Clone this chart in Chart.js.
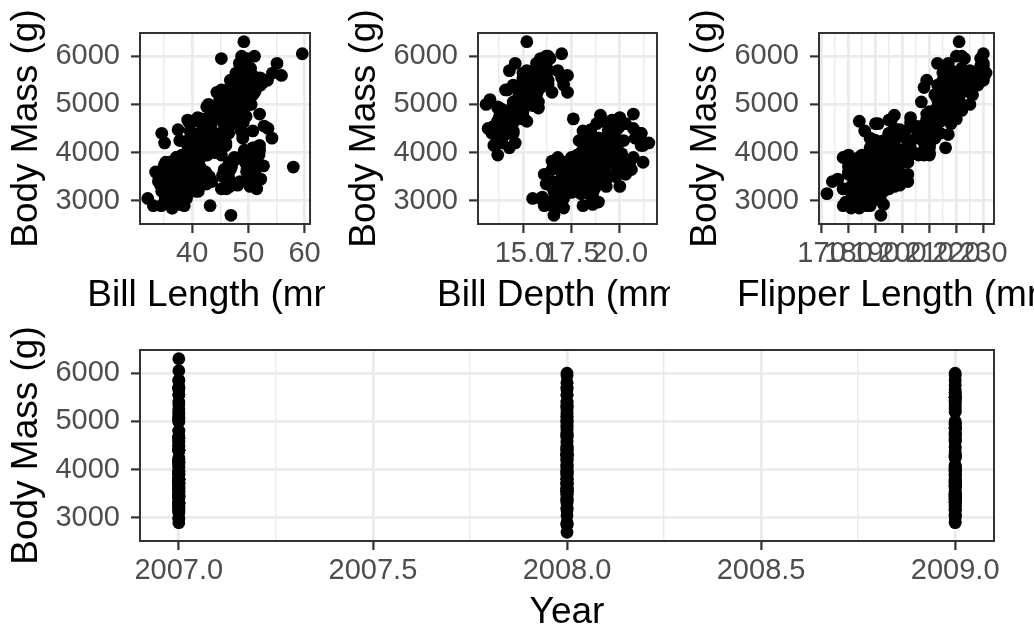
<!DOCTYPE html>
<html lang="en">
<head>
  <meta charset="UTF-8" />
  <title>Penguin body mass</title>
  <script src="https://cdn.jsdelivr.net/npm/chart.js"></script>
  <style>
    body { margin: 0; background: #fff; overflow: hidden; }
    #wrap { position: relative; width: 1034px; height: 624px; }
    canvas { position: absolute; }
  </style>
</head>
<body>
  <div id="wrap">
    <canvas id="chartLength" width="325" height="320" style="left:0;top:0"></canvas>
    <canvas id="chartDepth" width="332" height="320" style="left:338px;top:0"></canvas>
    <canvas id="chartFlipper" width="355" height="320" style="left:679px;top:0"></canvas>
    <canvas id="chartYear" width="1034" height="304" style="left:0;top:320px"></canvas>
  </div>

  <script>
    // one inner list per year, rows in the same order in every column
    const years = [2007, 2008, 2009];

    const billLength = [
      [39.1, 39.5, 40.3, 36.7, 39.3, 38.9, 39.2, 34.1, 42.0, 37.8, 37.8, 41.1, 38.6, 34.6, 36.6, 38.7, 42.5, 34.4, 46.0,
       37.8, 37.7, 35.9, 38.2, 38.8, 35.3, 40.6, 40.5, 37.9, 40.5,
       39.5, 37.2, 39.5, 40.9, 36.4, 39.2, 38.8, 42.2, 37.6, 39.8, 36.5, 40.8, 36.0, 44.1, 37.0, 39.6, 41.1, 37.5, 36.0, 42.3,
       46.1, 50.0, 48.7, 50.0, 47.6, 46.5, 45.4, 46.7, 43.3, 46.8, 40.9, 49.0, 45.5, 48.4, 45.8, 49.3, 42.0, 49.2, 46.2, 48.7,
       50.2, 45.1, 46.5, 46.3, 42.9, 46.1, 44.5, 47.8, 48.2, 50.0, 47.3, 42.8, 45.1, 59.6,
       46.5, 50.0, 51.3, 45.4, 52.7, 45.2, 46.1, 51.3, 46.0, 51.3, 46.6, 51.7, 47.0, 52.0, 45.9, 50.5, 50.3, 58.0, 46.4, 49.2,
       42.4, 48.5, 43.2, 50.6, 46.7, 52.0],
      [39.6, 40.1, 35.0, 42.0, 34.5, 41.4, 39.0, 40.6, 36.5, 37.6, 35.7, 41.3, 37.6, 41.1, 36.4, 41.6, 35.5, 41.1,
       35.9, 41.8, 33.5, 39.7, 39.6, 45.8, 35.5, 42.8, 40.9, 37.2, 36.2, 42.1, 34.6, 42.9, 36.7, 35.1,
       37.3, 41.3, 36.3, 36.9, 38.3, 38.9, 35.7, 41.1, 34.0, 39.6, 36.2, 40.8, 38.1, 40.3, 33.1, 43.2,
       49.1, 48.4, 42.6, 44.4, 44.0, 48.7, 42.7, 49.6, 45.3, 49.6, 50.5, 43.6, 45.5, 50.5, 44.9, 45.2, 46.6, 48.5, 45.1, 50.1,
       46.5, 45.0, 43.8, 45.5, 43.2, 50.4, 45.3, 46.2, 45.7, 54.3, 45.8, 49.8, 46.2, 49.5, 43.5, 50.7, 47.7, 46.4, 48.2, 46.5,
       46.4, 48.6, 47.5, 51.1, 45.2, 45.2,
       50.5, 49.5, 46.4, 52.8, 40.9, 54.2, 42.5, 51.0, 49.7, 47.5, 47.6, 52.0, 46.9, 53.5, 49.0, 46.2, 50.9, 45.5],
      [35.0, 41.0, 37.7, 37.8, 37.9, 39.7, 38.6, 38.2, 38.1, 43.2, 38.1, 45.6, 39.7, 42.2, 39.6, 42.7,
       38.6, 37.3, 35.7, 41.1, 36.2, 37.7, 40.2, 41.4, 35.2, 40.6, 38.8, 41.5, 39.0, 44.1, 38.5, 43.1,
       36.8, 37.5, 38.1, 41.1, 35.6, 40.2, 37.0, 39.7, 40.2, 40.6, 32.1, 40.7, 37.3, 39.0, 39.2, 36.6, 36.0, 37.8, 36.0, 41.5,
       49.1, 52.5, 47.4, 50.0, 44.9, 50.8, 43.4, 51.3, 47.5, 52.1, 47.5, 52.2, 45.5, 49.5, 44.5, 50.8, 49.4, 46.9, 48.4, 51.1,
       48.5, 55.9, 47.2, 49.1, 46.8, 41.7, 53.4, 43.3, 48.1, 50.5, 49.8, 43.5, 51.5, 46.2, 55.1, 48.8, 47.2, 46.8, 50.4, 45.2,
       49.9,
       50.9, 50.8, 50.1, 49.0, 51.5, 49.8, 48.1, 51.4, 45.7, 50.7, 42.5, 52.2, 45.2, 49.3, 50.2, 45.6, 51.9, 46.8, 45.7, 51.8,
       43.5, 49.6, 50.8, 50.2]
    ];

    const billDepth = [
      [18.7, 17.4, 18.0, 19.3, 20.6, 17.8, 19.6, 18.1, 20.2, 17.1, 17.3, 17.6, 21.2, 21.1, 17.8, 19.0, 20.7, 18.4, 21.5,
       18.3, 18.7, 19.2, 18.1, 17.2, 18.9, 18.6, 17.9, 18.6, 18.9,
       16.7, 18.1, 17.8, 18.9, 17.0, 21.1, 20.0, 18.5, 19.3, 19.1, 18.0, 18.4, 18.5, 19.7, 16.9, 18.8, 19.0, 18.9, 17.9, 21.2,
       13.2, 16.3, 14.1, 15.2, 14.5, 13.5, 14.6, 15.3, 13.4, 15.4, 13.7, 16.1, 13.7, 14.6, 14.6, 15.7, 13.5, 15.2, 14.5, 15.1,
       14.3, 14.5, 14.5, 15.8, 13.1, 15.1, 14.3, 15.0, 14.3, 15.3, 15.3, 14.2, 14.5, 17.0,
       17.9, 19.5, 19.2, 18.7, 19.8, 17.8, 18.2, 18.2, 18.9, 19.9, 17.8, 20.3, 17.3, 18.1, 17.1, 19.6, 20.0, 17.8, 18.6, 18.2,
       17.3, 17.5, 16.6, 19.4, 17.9, 19.0],
      [17.7, 18.9, 17.9, 19.5, 18.1, 18.6, 17.5, 18.8, 16.6, 19.1, 16.9, 21.1, 17.0, 18.2, 17.1, 18.0, 16.2, 19.1,
       16.6, 19.4, 19.0, 18.4, 17.2, 18.9, 17.5, 18.5, 16.8, 19.4, 16.1, 19.1, 17.2, 17.6, 18.8, 19.4,
       17.8, 20.3, 19.5, 18.6, 19.2, 18.8, 18.0, 18.1, 17.1, 18.1, 17.3, 18.9, 18.6, 18.5, 16.1, 18.5,
       14.8, 16.3, 13.7, 17.3, 13.6, 15.7, 13.7, 16.0, 13.7, 15.0, 15.9, 13.9, 13.9, 15.9, 13.3, 15.8, 14.2, 14.1, 14.4, 15.0,
       14.4, 15.4, 13.9, 15.0, 14.5, 15.3, 13.8, 14.9, 13.9, 15.7, 14.2, 16.8, 14.4, 16.2, 14.2, 15.0, 15.0, 15.6, 15.6, 14.8,
       15.0, 16.0, 14.2, 16.3, 13.8, 16.4,
       18.4, 19.0, 17.8, 20.0, 16.6, 20.8, 16.7, 18.8, 18.6, 16.8, 18.3, 20.7, 16.6, 19.9, 19.5, 17.5, 19.1, 17.0],
      [17.9, 20.0, 16.0, 20.0, 18.6, 18.9, 17.2, 20.0, 17.0, 19.0, 16.5, 20.3, 17.7, 19.5, 20.7, 18.3,
       17.0, 20.5, 17.0, 18.6, 17.2, 19.8, 17.0, 18.5, 15.9, 19.0, 17.6, 18.3, 17.1, 18.0, 17.9, 19.2,
       18.5, 18.5, 17.6, 17.5, 17.5, 20.1, 16.5, 17.9, 17.1, 17.2, 15.5, 17.0, 16.8, 18.7, 18.6, 18.4, 17.8, 18.1, 17.1, 18.5,
       14.5, 15.6, 14.6, 15.9, 13.8, 17.3, 14.4, 14.2, 14.0, 17.0, 15.0, 17.1, 14.5, 16.1, 14.7, 15.7, 15.8, 14.6, 14.4, 16.5,
       15.0, 17.0, 15.5, 15.0, 16.1, 14.7, 15.8, 14.0, 15.1, 15.2, 15.9, 15.2, 16.3, 14.1, 16.0, 16.2, 13.7, 14.3, 15.7, 14.8,
       16.1,
       17.9, 18.5, 17.9, 19.6, 18.7, 17.3, 16.4, 19.0, 17.3, 19.7, 17.3, 18.8, 16.6, 19.9, 18.8, 19.4, 19.5, 16.5, 17.0, 19.8,
       18.1, 18.2, 19.0, 18.7]
    ];

    const flipperLength = [
      [181, 186, 195, 193, 190, 181, 195, 193, 190, 186, 180, 182, 191, 198, 185, 195, 197, 184, 194,
       174, 180, 189, 185, 180, 187, 183, 187, 172, 180,
       178, 178, 188, 184, 195, 196, 190, 180, 181, 184, 182, 195, 186, 196, 185, 190, 182, 179, 190, 191,
       211, 230, 210, 218, 215, 210, 211, 219, 209, 215, 214, 216, 214, 213, 210, 217, 210, 221, 209, 222,
       218, 215, 213, 215, 215, 215, 216, 215, 210, 220, 222, 209, 207, 230,
       192, 196, 193, 188, 197, 198, 178, 197, 195, 198, 193, 194, 185, 201, 190, 201, 197, 181, 190, 195,
       181, 191, 187, 193, 195, 197],
      [186, 188, 190, 200, 187, 191, 186, 193, 181, 194, 185, 195, 185, 192, 184, 192, 195, 188,
       190, 198, 190, 190, 196, 197, 190, 195, 191, 184, 187, 195, 189, 196, 187, 193,
       191, 194, 190, 189, 189, 190, 202, 205, 185, 186, 187, 208, 190, 196, 178, 192,
       220, 220, 213, 219, 208, 208, 208, 225, 210, 216, 222, 217, 210, 225, 213, 215, 210, 220, 210, 225,
       217, 220, 208, 220, 208, 224, 208, 221, 214, 231, 219, 230, 214, 229, 220, 223, 216, 221, 221, 217,
       216, 230, 209, 220, 215, 223,
       200, 200, 191, 205, 187, 201, 187, 203, 195, 199, 195, 210, 192, 205, 210, 187, 196, 196],
      [192, 203, 183, 190, 193, 184, 199, 190, 181, 197, 198, 191, 193, 197, 191, 196,
       188, 199, 189, 189, 187, 198, 176, 202, 186, 199, 191, 195, 191, 210, 190, 197,
       193, 199, 187, 190, 191, 200, 185, 193, 193, 187, 188, 190, 192, 185, 190, 184, 195, 193, 187, 201,
       212, 221, 212, 224, 212, 228, 218, 218, 212, 230, 218, 228, 212, 224, 214, 226, 216, 222, 203, 225,
       219, 228, 215, 228, 215, 210, 219, 208, 209, 216, 229, 213, 230, 217, 230, 222, 214, 215, 222, 212,
       213,
       196, 201, 190, 212, 187, 198, 199, 201, 193, 203, 187, 197, 191, 203, 202, 194, 206, 189, 195, 207,
       202, 193, 210, 198]
    ];

    const bodyMass = [
      [3750, 3800, 3250, 3450, 3650, 3625, 4675, 3475, 4250, 3300, 3700, 3200, 3800, 4400, 3700, 3450, 4500, 3325, 4200,
       3400, 3600, 3800, 3950, 3800, 3800, 3550, 3200, 3150, 3950,
       3250, 3900, 3300, 3900, 3325, 4150, 3950, 3550, 3300, 4650, 3150, 3900, 3100, 4400, 3000, 4600, 3425, 2975, 3450, 4150,
       4500, 5700, 4450, 5700, 5400, 4550, 4800, 5200, 4400, 5150, 4650, 5550, 4650, 5850, 4200, 5850, 4150, 6300, 4800, 5350,
       5700, 5000, 4400, 5050, 5000, 5100, 4100, 5650, 4600, 5550, 5250, 4700, 5050, 6050,
       3500, 3900, 3650, 3525, 3725, 3950, 3250, 3750, 4150, 3700, 3800, 3775, 3700, 4050, 3575, 4050, 3300, 3700, 3450, 4400,
       3600, 3400, 2900, 3800, 3300, 4150],
      [3500, 4300, 3450, 4050, 2900, 3700, 3550, 3800, 2850, 3750, 3150, 4400, 3600, 4050, 2850, 3950, 3350, 4100,
       3050, 4450, 3600, 3900, 3550, 4150, 3700, 4250, 3700, 3900, 3550, 4000, 3200, 4700, 3800, 4200,
       3350, 3550, 3800, 3500, 3950, 3600, 3550, 4300, 3400, 4450, 3300, 4300, 3700, 4350, 2900, 4100,
       5150, 5400, 4950, 5250, 4350, 5350, 3950, 5700, 4300, 4750, 5550, 4900, 4200, 5400, 5100, 5300, 4850, 5300, 4400, 5000,
       4900, 5050, 4300, 5000, 4450, 5550, 4200, 5300, 4400, 5650, 4700, 5700, 4650, 5800, 4700, 5550, 4750, 5000, 5100, 5200,
       4700, 5800, 4600, 6000, 4750, 5950,
       3400, 3800, 3700, 4550, 3200, 4300, 3350, 4100, 3600, 3900, 3850, 4800, 2700, 4500, 3950, 3650, 3550, 3500],
      [3725, 4725, 3075, 4250, 2925, 3550, 3750, 3900, 3175, 4775, 3825, 4600, 3200, 4275, 3900, 4075,
       2900, 3775, 3350, 3325, 3150, 3500, 3450, 3875, 3050, 4000, 3275, 4300, 3050, 4000, 3325, 3500,
       3500, 4475, 3425, 3900, 3175, 3975, 3400, 4250, 3400, 3475, 3050, 3725, 3000, 3650, 4250, 3475, 3450, 3750, 3700, 4000,
       4625, 5450, 4725, 5350, 4750, 5600, 4600, 5300, 4875, 5550, 4950, 5400, 4750, 5650, 4850, 5200, 4925, 4875, 4625, 5250,
       4850, 5600, 4975, 5500, 5500, 4700, 5500, 4575, 5500, 5000, 5950, 4650, 5500, 4375, 5850, 6000, 4925, 4850, 5750, 5200,
       5400,
       3675, 4450, 3400, 4300, 3250, 3675, 3325, 3950, 3600, 4050, 3350, 3450, 3250, 4050, 3800, 3525, 3950, 3650, 3650, 4000,
       3400, 3775, 4100, 3775]
    ];

    // breaks (labelled) and minor breaks (grid only)
    const massTicks = [3000, 4000, 5000, 6000];
    const massMinor = [3500, 4500, 5500];
    const lengthTicks = [40, 50, 60];
    const lengthMinor = [35, 45, 55];
    const depthTicks = [15, 17.5, 20];
    const depthMinor = [13.75, 16.25, 18.75, 21.25];
    const flipperTicks = [170, 180, 190, 200, 210, 220, 230];
    const flipperMinor = [175, 185, 195, 205, 215, 225];
    const yearTicks = [2007, 2007.5, 2008, 2008.5, 2009];
    const yearMinor = [2007.25, 2007.75, 2008.25, 2008.75];

    const family = '"Liberation Sans", Arial, Helvetica, sans-serif';
    const tickFont = { family: family, size: 29 };
    const titleFont = { family: family, size: 37 };

    // ggplot-like limits: data range plus 5% each side
    function limits(groups) {
      const all = groups.flat();
      const lo = Math.min(...all), hi = Math.max(...all);
      const pad = (hi - lo) * 0.05;
      return [lo - pad, hi + pad];
    }

    function points(xGroups) {
      return xGroups.flatMap((group, g) => group.map((x, i) => ({ x: x, y: bodyMass[g][i] })));
    }

    function gridStyle(major) {
      const isMajor = c => c.tick && major.includes(c.tick.value);
      return {
        color: '#EBEBEB',
        lineWidth: c => isMajor(c) ? 2.8 : 1.4,
        tickLength: 9,
        tickWidth: 2.2,
        tickColor: c => isMajor(c) ? '#333333' : 'rgba(0,0,0,0)'
      };
    }

    function setTicks(major, minor) {
      return scale => {
        scale.ticks = major.concat(minor).sort((a, b) => a - b).map(v => ({ value: v }));
      };
    }

    function xAxis(range, major, minor, decimals, height) {
      return {
        type: 'linear',
        min: range[0],
        max: range[1],
        afterBuildTicks: setTicks(major, minor),
        afterFit: s => { s.height = height; },
        ticks: {
          autoSkip: false, maxRotation: 0, minRotation: 0, padding: 4,
          color: '#4D4D4D', font: tickFont,
          callback: v => major.includes(v) ? v.toFixed(decimals) : ''
        },
        grid: gridStyle(major),
        border: { display: false }
      };
    }

    const massRange = limits(bodyMass);

    function yAxis() {
      return {
        type: 'linear',
        min: massRange[0],
        max: massRange[1],
        afterBuildTicks: setTicks(massTicks, massMinor),
        afterFit: s => { s.width = 140; },
        ticks: {
          padding: 11, color: '#4D4D4D', font: tickFont,
          callback: v => massTicks.includes(v) ? String(v) : ''
        },
        title: {
          display: true, text: 'Body Mass (g)', color: '#000000',
          font: titleFont, padding: { top: 5, bottom: 0 }
        },
        grid: gridStyle(massTicks),
        border: { display: false }
      };
    }

    // panel border and the x title (drawn free so it can run past the panel like in the original)
    const frame = {
      id: 'frame',
      afterDraw(chart, args, opts) {
        const { ctx, chartArea: a } = chart;
        ctx.save();
        ctx.strokeStyle = '#333333';
        ctx.lineWidth = 2;
        ctx.strokeRect(a.left, a.top, a.right - a.left, a.bottom - a.top);
        ctx.font = '37px ' + family;
        ctx.fillStyle = '#000000';
        ctx.textAlign = 'center';
        ctx.textBaseline = 'alphabetic';
        ctx.fillText(opts.title, (a.left + a.right) / 2 + opts.shift, opts.baseline);
        ctx.restore();
      }
    };

    function makeChart(id, data, xScale, title, shift, baseline, padding) {
      new Chart(document.getElementById(id), {
        type: 'scatter',
        data: {
          datasets: [{
            data: data,
            backgroundColor: '#000000',
            borderWidth: 0,
            pointRadius: 6.4,
            pointHoverRadius: 6.4
          }]
        },
        options: {
          responsive: false,
          animation: false,
          devicePixelRatio: 1,
          layout: { padding: padding },
          scales: { x: xScale, y: yAxis() },
          plugins: {
            legend: { display: false },
            tooltip: { enabled: false },
            frame: { title: title, shift: shift, baseline: baseline }
          }
        },
        plugins: [frame]
      });
    }

    const yearGroups = bodyMass.map((group, g) => group.map(() => years[g]));

    makeChart('chartLength', points(billLength),
      xAxis(limits(billLength), lengthTicks, lengthMinor, 0, 96),
      'Bill Length (mm)', -3, 306, { top: 33, right: 10, bottom: 0, left: 0 });

    makeChart('chartDepth', points(billDepth),
      xAxis(limits(billDepth), depthTicks, depthMinor, 1, 96),
      'Bill Depth (mm)', -3, 306, { top: 33, right: 13, bottom: 0, left: 0 });

    makeChart('chartFlipper', points(flipperLength),
      xAxis(limits(flipperLength), flipperTicks, flipperMinor, 0, 96),
      'Flipper Length (mm)', -3, 306, { top: 33, right: 40, bottom: 0, left: 0 });

    makeChart('chartYear', points(yearGroups),
      xAxis(limits(yearGroups), yearTicks, yearMinor, 1, 83),
      'Year', 0, 303, { top: 30, right: 40, bottom: 0, left: 0 });
  </script>
</body>
</html>
